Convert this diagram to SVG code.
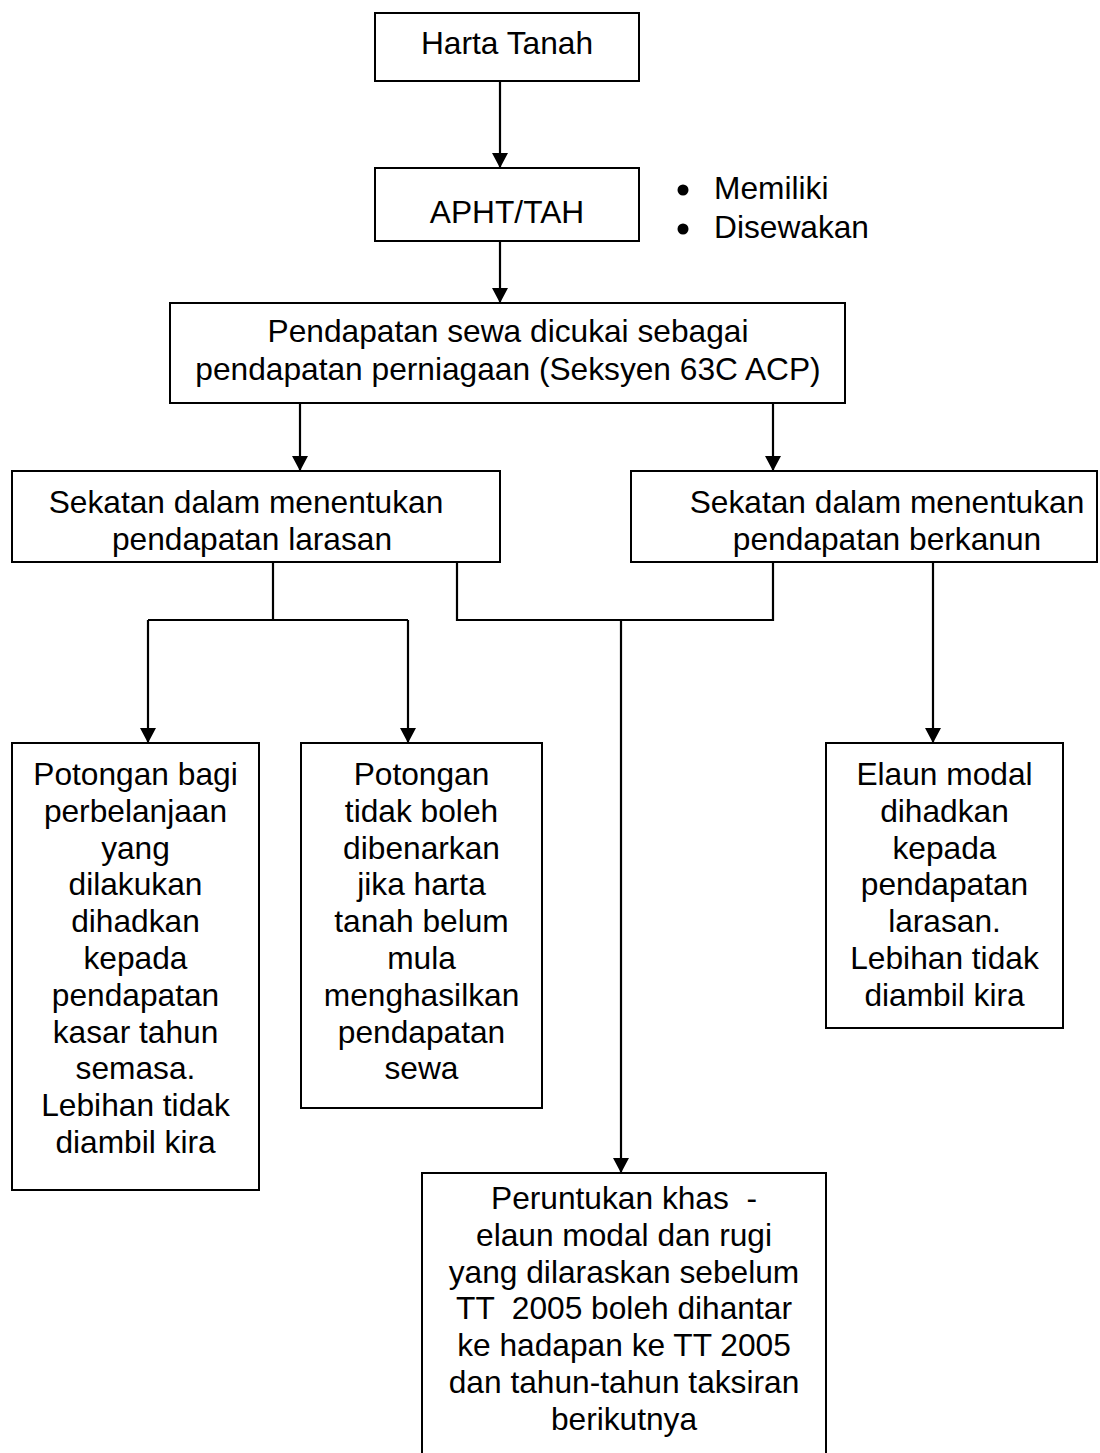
<svg xmlns="http://www.w3.org/2000/svg" width="1100" height="1453" viewBox="0 0 1100 1453">
<style>
.box{fill:#fff;stroke:#000;stroke-width:2}
.t{font-family:"Liberation Sans",Arial,sans-serif;font-size:31.7px;fill:#000;text-anchor:middle;white-space:pre}
.tl{font-family:"Liberation Sans",Arial,sans-serif;font-size:31.7px;fill:#000;white-space:pre}
.c{fill:none;stroke:#000;stroke-width:2.2}
</style>
<defs>
<marker id="arr" markerUnits="userSpaceOnUse" markerWidth="16" markerHeight="16" refX="15" refY="8" orient="auto">
<path d="M0,0 L15,8 L0,16 z" fill="#000"/>
</marker>
</defs>
<rect width="1100" height="1453" fill="#fff"/>
<g id="connectors">
<line class="c" x1="500" y1="81" x2="500" y2="168" marker-end="url(#arr)"/>
<line class="c" x1="500" y1="241" x2="500" y2="303" marker-end="url(#arr)"/>
<line class="c" x1="300" y1="403" x2="300" y2="471" marker-end="url(#arr)"/>
<line class="c" x1="773" y1="403" x2="773" y2="471" marker-end="url(#arr)"/>
<polyline class="c" points="273,562 273,620"/>
<polyline class="c" points="148,620 408,620"/>
<line class="c" x1="148" y1="620" x2="148" y2="743" marker-end="url(#arr)"/>
<line class="c" x1="408" y1="620" x2="408" y2="743" marker-end="url(#arr)"/>
<polyline class="c" points="457,562 457,620 773,620 773,562"/>
<line class="c" x1="621" y1="620" x2="621" y2="1173" marker-end="url(#arr)"/>
<line class="c" x1="933" y1="562" x2="933" y2="743" marker-end="url(#arr)"/>
</g>
<g id="harta">
<rect class="box" x="375" y="13" width="264" height="68"/>
<text class="t" x="507" y="54">Harta Tanah</text>
</g>
<g id="apht">
<rect class="box" x="375" y="168" width="264" height="73"/>
<text class="t" x="507" y="223">APHT/TAH</text>
</g>
<g id="bullets">
<circle cx="683" cy="190" r="5.5" fill="#000"/>
<circle cx="683" cy="229" r="5.5" fill="#000"/>
<text class="tl" x="714" y="199">Memiliki</text>
<text class="tl" x="714" y="238">Disewakan</text>
</g>
<g id="pendapatan">
<rect class="box" x="170" y="303" width="675" height="100"/>
<text class="t" x="508" y="342">Pendapatan sewa dicukai sebagai</text>
<text class="t" x="508" y="380">pendapatan perniagaan (Seksyen 63C ACP)</text>
</g>
<g id="sekatan-larasan">
<rect class="box" x="12" y="471" width="488" height="91"/>
<text class="t" x="246" y="513">Sekatan dalam menentukan</text>
<text class="t" x="252" y="550">pendapatan larasan</text>
</g>
<g id="sekatan-berkanun">
<rect class="box" x="631" y="471" width="466" height="91"/>
<text class="t" x="887" y="513">Sekatan dalam menentukan</text>
<text class="t" x="887" y="550">pendapatan berkanun</text>
</g>
<g id="potongan-perbelanjaan">
<rect class="box" x="12" y="743" width="247" height="447"/>
<text class="t" x="135.5" y="785">Potongan bagi</text>
<text class="t" x="135.5" y="821.8">perbelanjaan</text>
<text class="t" x="135.5" y="858.6">yang</text>
<text class="t" x="135.5" y="895.4">dilakukan</text>
<text class="t" x="135.5" y="932.2">dihadkan</text>
<text class="t" x="135.5" y="969">kepada</text>
<text class="t" x="135.5" y="1005.8">pendapatan</text>
<text class="t" x="135.5" y="1042.6">kasar tahun</text>
<text class="t" x="135.5" y="1079.4">semasa.</text>
<text class="t" x="135.5" y="1116.2">Lebihan tidak</text>
<text class="t" x="135.5" y="1153">diambil kira</text>
</g>
<g id="potongan-tidak">
<rect class="box" x="301" y="743" width="241" height="365"/>
<text class="t" x="421.5" y="785">Potongan</text>
<text class="t" x="421.5" y="821.8">tidak boleh</text>
<text class="t" x="421.5" y="858.6">dibenarkan</text>
<text class="t" x="421.5" y="895.4">jika harta</text>
<text class="t" x="421.5" y="932.2">tanah belum</text>
<text class="t" x="421.5" y="969">mula</text>
<text class="t" x="421.5" y="1005.8">menghasilkan</text>
<text class="t" x="421.5" y="1042.6">pendapatan</text>
<text class="t" x="421.5" y="1079.4">sewa</text>
</g>
<g id="elaun">
<rect class="box" x="826" y="743" width="237" height="285"/>
<text class="t" x="944.5" y="785">Elaun modal</text>
<text class="t" x="944.5" y="821.8">dihadkan</text>
<text class="t" x="944.5" y="858.6">kepada</text>
<text class="t" x="944.5" y="895.4">pendapatan</text>
<text class="t" x="944.5" y="932.2">larasan.</text>
<text class="t" x="944.5" y="969">Lebihan tidak</text>
<text class="t" x="944.5" y="1005.8">diambil kira</text>
</g>
<g id="peruntukan">
<rect class="box" x="422" y="1173" width="404" height="300"/>
<text class="t" x="624" y="1209">Peruntukan khas  -</text>
<text class="t" x="624" y="1245.8">elaun modal dan rugi</text>
<text class="t" x="624" y="1282.6">yang dilaraskan sebelum</text>
<text class="t" x="624" y="1319.4">TT  2005 boleh dihantar</text>
<text class="t" x="624" y="1356.2">ke hadapan ke TT 2005</text>
<text class="t" x="624" y="1393">dan tahun-tahun taksiran</text>
<text class="t" x="624" y="1429.8">berikutnya</text>
</g>
</svg>
